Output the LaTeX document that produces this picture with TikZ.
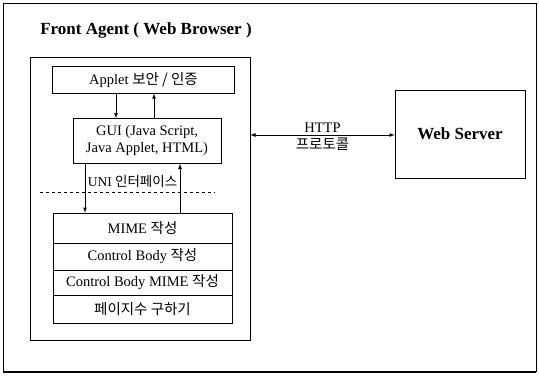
\documentclass[tikz,border=0pt]{standalone}
\usepackage{fontspec}
\setmainfont{Liberation Serif}
\newfontfamily\krfont{Noto Sans CJK KR}
\usepackage{tikz}
\usetikzlibrary{shapes,arrows}
\tikzstyle{ann} = [font=\fontsize{14.5}{17}\selectfont, text centered]
\tikzstyle{blk} = [draw, semithick, font=\fontsize{14.5}{17}\selectfont, text centered, inner sep=0pt]
\tikzstyle{row} = [draw, semithick, minimum width=179pt, font=\fontsize{14.5}{17}\selectfont, text centered, inner sep=0pt]
\tikzstyle{link} = [draw, -latex, thick]
\def\rowx{142.5}

\begin{document}
\begin{tikzpicture}[x=1pt,y=-1pt]
    \useasboundingbox (0,0) rectangle (539,376);
    % outer frame
    \draw[line width=0.8pt] (3,3) -- (536,3) -- (536,372);
    \draw[line width=0.8pt] (3,3) -- (3,372);
    \draw[line width=2pt] (3,372) -- (536,372);

    \node (title) at (146,30) [font=\bfseries\fontsize{17}{20}\selectfont] {Front Agent ( Web Browser )};

    \node (browser) at (140,198.5) [draw, semithick, minimum width=220pt, minimum height=283pt] {};
    \path (browser.north)+(3.5,23) node (applet) [blk, minimum width=182pt, minimum height=27pt]
        {Applet {\krfont 보안 / 인증}};
    \path (applet.south)+(3.5,47.5) node (gui) [blk, minimum width=148pt, minimum height=45pt, align=center]
        {GUI (Java Script,\\Java Applet, HTML)};

    % stacked steps
    \node (mime)   at (\rowx,228)   [row, minimum height=30pt] {MIME {\krfont 작성}};
    \node (body)   at (\rowx,256.5) [row, minimum height=27pt] {Control Body {\krfont 작성}};
    \node (bodymime) at (\rowx,282.5) [row, minimum height=25pt] {Control Body MIME {\krfont 작성}};
    \node (pages)  at (\rowx,309)   [row, minimum height=28pt] {\krfont 페이지수 구하기};

    \node (uni) at (132.5,181) [ann, font=\fontsize{13.5}{16}\selectfont] {UNI {\krfont 인터페이스}};
    \coordinate (sepl) at (40,192);
    \coordinate (sepr) at (215,192);
    \draw[dashed, semithick] (sepl) -- (sepr);

    \node (server) at (460,134) [blk, minimum width=130pt, minimum height=88pt,
        font=\bfseries\fontsize{17}{20}\selectfont] {Web Server};

    \path [link] ([xshift=-31pt]gui.north |- applet.south) -- ([xshift=-31pt]gui.north);
    \path [link] ([xshift=7pt]gui.north) -- ([xshift=7pt]gui.north |- applet.south);
    \path [link] ([xshift=-62pt]gui.south) -- ([xshift=-62pt]gui.south |- mime.north);
    \path [link] ([xshift=33pt]gui.south |- mime.north) -- ([xshift=33pt]gui.south);

    \path [draw, latex-latex, thick] (browser.east |- 0,135) -- node [ann, above=-1pt] {HTTP}
        node [ann, below=-1pt] {\krfont 프로토콜} (server.west |- 0,135);
\end{tikzpicture}
\end{document}
